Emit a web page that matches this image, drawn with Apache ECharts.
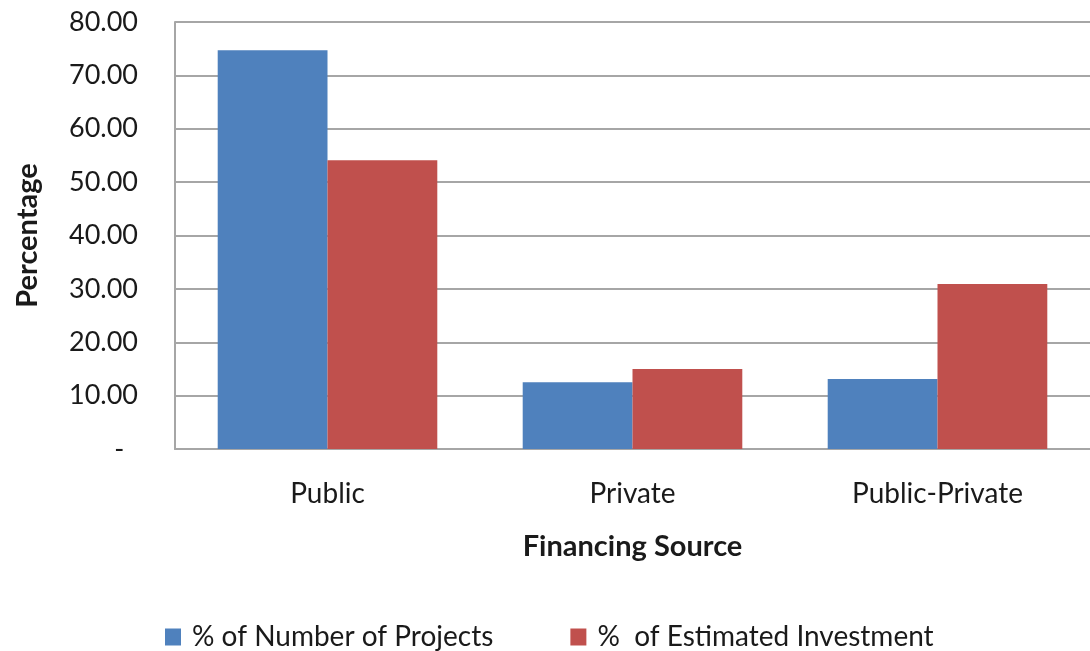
<!DOCTYPE html>
<html>
<head>
<meta charset="utf-8">
<script src="https://cdn.jsdelivr.net/npm/echarts@6/dist/echarts.min.js"></script>
<style>
  html, body { margin: 0; padding: 0; background: #fff; }
  #chart { width: 1090px; height: 651px; }
</style>
</head>
<body>
<div id="chart"></div>
<script>
// Chart data
const categories = ['Public', 'Private', 'Public-Private'];
const seriesNames = ['% of Number of Projects', '%  of Estimated Investment'];
const projectShare = [74.7, 12.5, 13.1];
const investmentShare = [54.1, 15.0, 30.9];

const FONT = 'Lato, "Noto Sans", sans-serif';
const TEXT = '#1a1a1a';

const chart = echarts.init(document.getElementById('chart'));

const option = {
    animation: false,
    textStyle: { fontFamily: FONT, color: TEXT },
    color: ['#4F81BD', '#C0504D'],
    grid: { left: 175, top: 22, width: 924, height: 427 },
    legend: {
        data: seriesNames,
        left: 160,
        top: 618,
        icon: 'rect',
        itemWidth: 16,
        itemHeight: 17,
        itemGap: 77,
        textStyle: { fontSize: 28, color: TEXT, fontFamily: FONT, padding: [0, 0, 0, 6] }
    },
    xAxis: {
        type: 'category',
        data: categories,
        name: 'Financing Source',
        nameLocation: 'middle',
        nameGap: 83,
        nameTextStyle: { fontSize: 29, fontWeight: 'bold', color: TEXT },
        axisLine: { show: true, lineStyle: { color: '#a6a6a6', width: 2 } },
        axisTick: { show: false },
        axisLabel: { fontSize: 28, color: TEXT, margin: 31 }
    },
    yAxis: {
        type: 'value',
        min: 0,
        max: 80,
        interval: 10,
        name: 'Percentage',
        nameLocation: 'middle',
        nameGap: 133,
        nameRotate: 90,
        nameTextStyle: { fontSize: 29, fontWeight: 'bold', color: TEXT },
        axisLine: { show: true, lineStyle: { color: '#a6a6a6', width: 2 } },
        axisTick: { show: false },
        splitLine: { show: true, lineStyle: { color: '#a6a6a6', width: 2 } },
        axisLabel: {
            fontSize: 27,
            color: TEXT,
            margin: 37,
            formatter: v => (v === 0 ? '-  ' : v.toFixed(2))
        }
    },
    series: [
        {
            name: seriesNames[0],
            type: 'bar',
            data: projectShare,
            barGap: '0%',
            barCategoryGap: '28%'
        },
        {
            name: seriesNames[1],
            type: 'bar',
            data: investmentShare,
            barGap: '0%',
            barCategoryGap: '28%'
        }
    ]
};

chart.setOption(option);
</script>
</body>
</html>
